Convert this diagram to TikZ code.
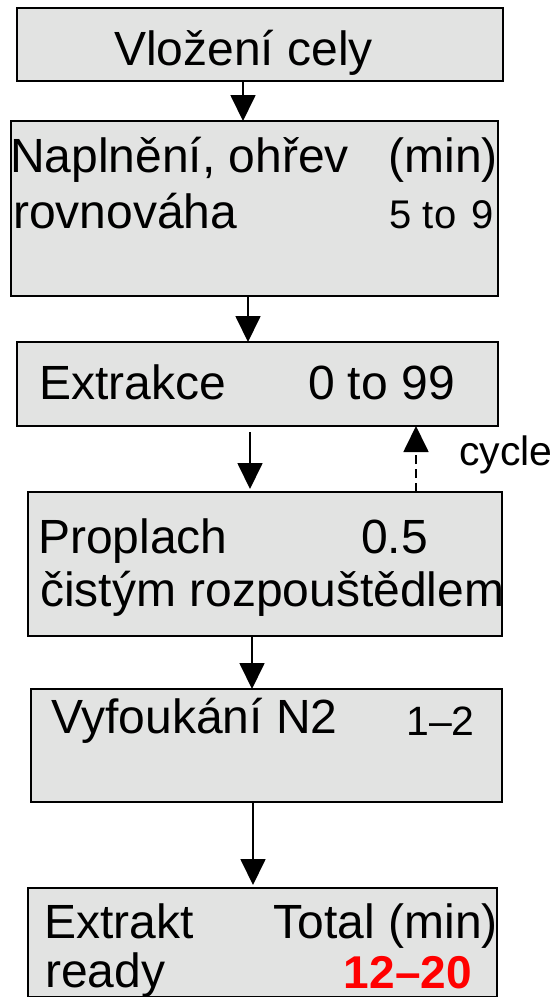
\documentclass[tikz,border=0pt]{standalone}
\usepackage{fontspec}
\setmainfont{Liberation Sans}
\usetikzlibrary{arrows.meta}
\definecolor{boxfill}{RGB}{226,227,226}
\definecolor{numred}{RGB}{255,0,0}
\newcommand{\flowfont}{\fontsize{48}{48}\selectfont}
\begin{document}
\begin{tikzpicture}[x=1pt,y=-1pt,
  flowbox/.style={draw=black,line width=2pt,fill=boxfill,inner sep=0pt,outer sep=0pt},
  lbl/.style={inner sep=0pt,anchor=base west,font=\flowfont},
  lblr/.style={inner sep=0pt,anchor=base east,font=\flowfont},
  flowarrow/.style={line width=1.8pt,-{Triangle[length=26pt,width=25pt]}}]
\useasboundingbox (0,0) rectangle (560,997);
% boxes
\node[flowbox,minimum width=486pt,minimum height=73pt]  (b1) at (260,44.5) {};
\node[flowbox,minimum width=487pt,minimum height=175pt] (b2) at (254.5,208.5) {};
\node[flowbox,minimum width=481pt,minimum height=84pt]  (b3) at (257.5,384) {};
\node[flowbox,minimum width=474pt,minimum height=144pt] (b4) at (265,564) {};
\node[flowbox,minimum width=471pt,minimum height=113pt] (b5) at (266.5,745.5) {};
\node[flowbox,minimum width=469pt,minimum height=109pt] (b6) at (262.5,942.5) {};
% texts
\node[lbl]  (t1)  at (114,65)  {Vložení cely};
\node[lbl]  (t2a) at (10,172)  {Naplnění, ohřev};
\node[lblr] (t2b) at (498,172) {(min)};
\node[lbl]  (t2c) at (13,228)  {rovnováha};
\node[lblr,font=\fontsize{40}{40}\selectfont] (t2d) at (494,228) {5 to\hspace{0.38em}9};
\node[lbl]  (t3a) at (39,399)  {Extrakce};
\node[lblr] (t3b) at (455,399) {0 to 99};
\node[lbl]  (t4a) at (38,553)  {Proplach};
\node[lbl]  (t4b) at (361,553) {0.5};
\node[lbl]  (t4c) at (40,606)  {čistým rozpouštědlem};
\node[lbl,font=\fontsize{41}{41}\selectfont] (cyc) at (459,465) {cycle};
\node[lbl]  (t5a) at (51,733)  {Vyfoukání N2};
\node[lblr,font=\fontsize{41}{41}\selectfont] (t5b) at (475,735) {1–2};
\node[lbl]  (t6a) at (44,938)  {Extrakt};
\node[lblr] (t6b) at (498,938) {Total (min)};
\node[lbl]  (t6c) at (45,987)  {ready};
\node[lblr,font=\bfseries\fontsize{46}{46}\selectfont,text=numred] (t6d) at (472,988) {12–20};
% connector x positions
\coordinate (ax1) at (243,0);
\coordinate (ax2) at (248,0);
\coordinate (ax3) at (250,0);
\coordinate (ax4) at (252,0);
\coordinate (ax5) at (253,0);
\coordinate (axc) at (416,0);
% connectors
\draw[flowarrow] (b1.south -| ax1) -- (b2.north -| ax1);
\draw[flowarrow] (b2.south -| ax2) -- (b3.north -| ax2);
\draw[flowarrow,shorten <=6pt,shorten >=3pt] (b3.south -| ax3) -- (b4.north -| ax3);
\draw[flowarrow] (b4.south -| ax4) -- (b5.north -| ax4);
\draw[flowarrow,shorten >=3pt] (b5.south -| ax5) -- (b6.north -| ax5);
\draw[flowarrow,dash pattern=on 9pt off 5pt] (b4.north -| axc) -- (b3.south -| axc);
\end{tikzpicture}
\end{document}
